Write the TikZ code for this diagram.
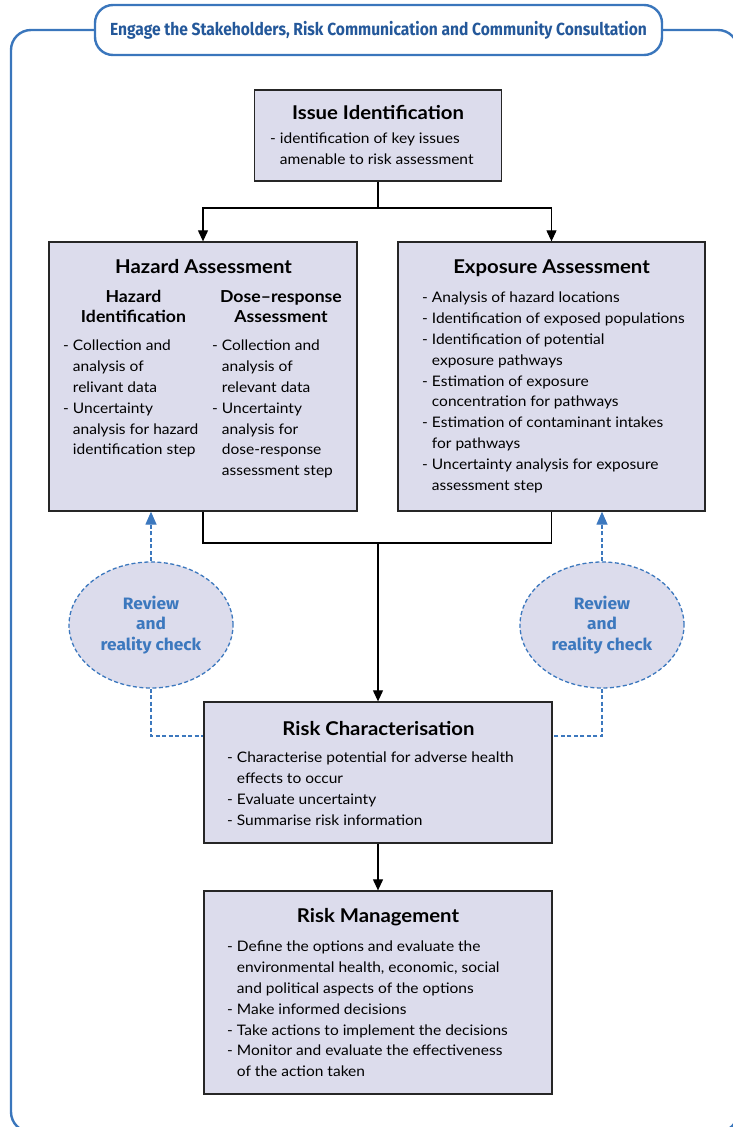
\documentclass[tikz,border=0pt]{standalone}
\usepackage{fontspec}
\setmainfont[FakeStretch=1.07]{Lato}
\newfontfamily\hdrfont[FakeStretch=0.89]{Fira Sans}
\newfontfamily\revfont[FakeStretch=1.05]{Fira Sans}
\usetikzlibrary{arrows.meta,shapes.geometric}

\definecolor{boxfill}{HTML}{DCDCEC}
\definecolor{frameblue}{HTML}{3A76BC}
\definecolor{hdrblue}{HTML}{24589A}
\definecolor{revblue}{HTML}{3C78BE}

\newcommand{\ind}{\phantom{-}\ }

\begin{document}
\begin{tikzpicture}[x=1pt,y=-1pt,
  box/.style={draw=black!85, line width=1.3pt, fill=boxfill, inner sep=0},
  ttl/.style={font=\fontsize{19}{22}\selectfont\bfseries, inner sep=0, anchor=base},
  sub/.style={font=\fontsize{16.5}{20}\selectfont\bfseries, inner sep=0, align=center, anchor=north},
  body/.style={font=\fontsize{14.5}{20.8}\selectfont, inner sep=0, align=left, anchor=north west},
  link/.style={line width=1.1pt, draw=black},
  tip/.style={-{Triangle[length=11pt,width=10pt]}},
  review/.style={ellipse, draw=revblue, dash pattern=on 4pt off 2.5pt, line width=1.3pt, fill=boxfill,
    minimum width=164, minimum height=126, inner sep=0, align=center, text=revblue,
    font=\revfont\fontsize{16.5}{20.5}\selectfont\bfseries},
  revlink/.style={draw=revblue, dash pattern=on 4pt off 2.5pt, line width=1.3pt},
  bluetip/.style={-{Triangle[length=13pt,width=11pt]}},
  frame/.style={draw=frameblue, line width=2.4pt}
]
\useasboundingbox (0,0) rectangle (733,1127);
\clip (0,0) rectangle (733,1127);

% header banner and surrounding frame
\node[draw=frameblue, line width=2.4pt, rounded corners=18, fill=white,
  minimum width=567, minimum height=50, inner sep=0,
  font=\hdrfont\fontsize{17.5}{20}\selectfont\bfseries, text=hdrblue] (hdr) at (378.5,30) {Engage the Stakeholders, Risk Communication and Community Consultation};
\draw[frame, rounded corners=20] (hdr.west) -- (11,30) -- (11,1132) -- (738,1132) -- (738,30) -- (hdr.east);

% boxes
\node[box, minimum width=247, minimum height=91] (issue) at (378,135.5) {};
\node[box, minimum width=308, minimum height=269] (haz) at (203,376.5) {};
\node[box, minimum width=307, minimum height=269] (exp) at (551.5,376.5) {};
\node[box, minimum width=348, minimum height=141] (rc) at (378,772.5) {};
\node[box, minimum width=348, minimum height=203] (rm) at (378,992.5) {};

% review ellipses
\node[review] (revl) at (151,625) {Review\\and\\reality check};
\node[review] (revr) at (602,625) {Review\\and\\reality check};

% box texts
\node[ttl] (issuet) at (378,119) {Issue Identification};
\node[body] (issueb) at (270,133) {- identification of key issues\\\ind amenable to risk assessment};

\node[ttl] (hazt) at (203.5,273) {Hazard Assessment};
\node[sub] (hazs1) at (133.5,290) {Hazard\\Identification};
\node[sub] (hazs2) at (281,290) {Dose--response\\Assessment};
\node[body] (hazb1) at (63,340) {- Collection and\\\ind analysis of\\\ind relivant data\\- Uncertainty\\\ind analysis for hazard\\\ind identification step};
\node[body] (hazb2) at (212,340) {- Collection and\\\ind analysis of\\\ind relevant data\\- Uncertainty\\\ind analysis for\\\ind dose-response\\\ind assessment step};

\node[ttl] (expt) at (551.5,273) {Exposure Assessment};
\node[body] (expb) at (422,292) {- Analysis of hazard locations\\- Identification of exposed populations\\- Identification of potential\\\ind exposure pathways\\- Estimation of exposure\\\ind concentration for pathways\\- Estimation of contaminant intakes\\\ind for pathways\\- Uncertainty analysis for exposure\\\ind assessment step};

\node[ttl] (rct) at (378.5,735) {Risk Characterisation};
\node[body] (rcb) at (227,752) {- Characterise potential for adverse health\\\ind effects to occur\\- Evaluate uncertainty\\- Summarise risk information};

\node[ttl] (rmt) at (378,922) {Risk Management};
\node[body] (rmb) at (227,941) {- Define the options and evaluate the\\\ind environmental health, economic, social\\\ind and political aspects of the options\\- Make informed decisions\\- Take actions to implement the decisions\\- Monitor and evaluate the effectiveness\\\ind of the action taken};

% connectors
\coordinate (split) at (378,208);
\coordinate (join) at (378,543);
\draw[link] (issue.south) -- (split);
\draw[link, tip] (split) -| (haz.north);
\draw[link, tip] (split) -| (exp.north);
\draw[link] (haz.south) |- (join);
\draw[link] (exp.south) |- (join);
\draw[link, tip] (join) -- (rc.north);
\draw[link, tip] (rc.south) -- (rm.north);

% review loops
\draw[revlink, bluetip] (revl.north) -- (revl.north |- haz.south);
\draw[revlink, bluetip] (revr.north) -- (revr.north |- exp.south);
\draw[revlink] (revl.south) |- (rc.west |- 0,736);
\draw[revlink] (revr.south) |- (rc.east |- 0,736);
\end{tikzpicture}
\end{document}
